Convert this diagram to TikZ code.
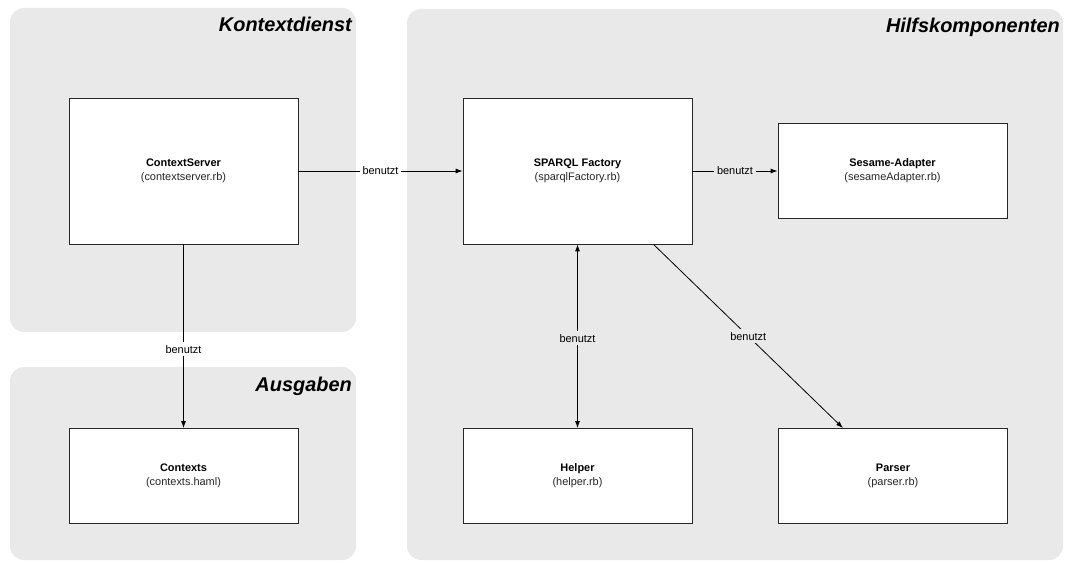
\documentclass[tikz,border=0pt]{standalone}
\usepackage{fontspec}
\setmainfont{Liberation Sans}
\usetikzlibrary{arrows.meta,calc}
\definecolor{groupbg}{RGB}{233,233,233}
\definecolor{boxline}{RGB}{40,40,40}
\tikzset{
  group/.style={fill=groupbg, draw=none, rounded corners=14bp},
  grouptitle/.style={anchor=base east, inner sep=0pt,
    font=\fontsize{20}{24}\selectfont\bfseries\itshape},
  comp/.style={draw=boxline, fill=white, line width=0.8bp, align=center,
    minimum width=229bp, font=\fontsize{11}{14.3}\selectfont, inner sep=0pt},
  tallcomp/.style={comp, minimum height=146bp},
  flatcomp/.style={comp, minimum height=95bp},
  uses/.style={draw=black, line width=0.8bp, -{Latex[length=7bp,width=5bp]}},
  usesboth/.style={uses, {Latex[length=7bp,width=5bp]}-{Latex[length=7bp,width=5bp]}},
  edgelabel/.style={font=\fontsize{11}{13}\selectfont, inner sep=3bp, fill=#1},
  edgelabel/.default=groupbg
}
\newcommand{\comptext}[2]{\textbf{#1}\\\textcolor{black!85}{#2}}
\begin{document}
\begin{tikzpicture}[x=1bp, y=-1bp]
  \useasboundingbox (0,0) rectangle (1065,562);

  % background groups
  \path[group] (10,8) rectangle (356,332);
  \path[group] (10,367) rectangle (356,560);
  \path[group] (407,9) rectangle (1063,560);

  \node[grouptitle] (tkd) at (352,32) {Kontextdienst};
  \node[grouptitle] (tag) at (352,391) {Ausgaben};
  \node[grouptitle] (thk) at (1060,33) {Hilfskomponenten};

  % components
  \node[tallcomp] (cs)  at (183.5,171)   {\comptext{ContextServer}{(contextserver.rb)}};
  \node[tallcomp] (sp)  at (577.5,171)   {\comptext{SPARQL Factory}{(sparqlFactory.rb)}};
  \node[flatcomp] (se)  at (892.5,171) {\comptext{Sesame-Adapter}{(sesameAdapter.rb)}};
  \node[flatcomp] (ctx) at (183.5,476) {\comptext{Contexts}{(contexts.haml)}};
  \node[flatcomp] (hl)  at (577.5,476) {\comptext{Helper}{(helper.rb)}};
  \node[flatcomp] (ps)  at (893,476)   {\comptext{Parser}{(parser.rb)}};

  % dependencies
  \draw[uses] (cs.east) -- node[edgelabel=white] {benutzt} (sp.west);
  \draw[uses] (sp.east |- se.west) -- node[edgelabel] {benutzt} (se.west);
  \draw[uses] (cs.south) -- node[edgelabel=white, pos=0.57] {benutzt} (ctx.north);
  \draw[usesboth] (sp.south) -- node[edgelabel, pos=0.51] {benutzt} (hl.north);
  \draw[uses] ([xshift=76bp]sp.south) -- node[edgelabel] {benutzt} ([xshift=-50bp]ps.north);
\end{tikzpicture}
\end{document}
